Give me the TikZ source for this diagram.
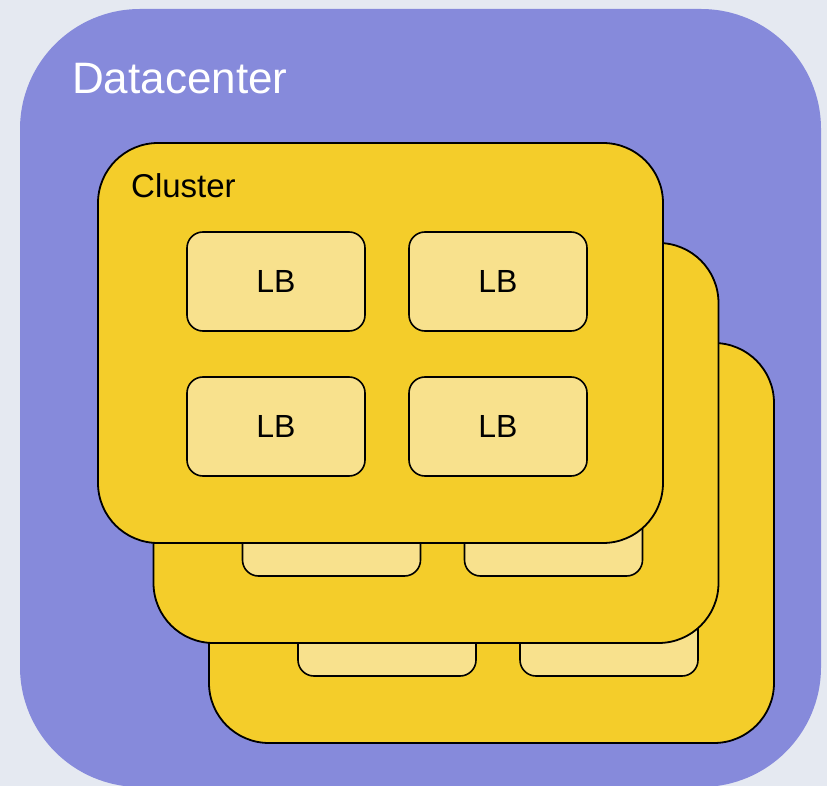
\documentclass[tikz,border=0pt]{standalone}
\usepackage{fontspec}
\setmainfont{Liberation Sans}
\definecolor{bgc}{RGB}{229,233,241}
\definecolor{dcc}{RGB}{134,138,219}
\definecolor{clc}{RGB}{244,205,42}
\definecolor{lbc}{RGB}{248,225,141}
\begin{document}
\begin{tikzpicture}[x=1pt,y=-1pt,
  dcbox/.style={fill=dcc,draw=none,rounded corners=120pt,minimum width=801pt,minimum height=778pt,inner sep=0pt},
  clbox/.style={fill=clc,draw=black,line width=1.8pt,rounded corners=60pt,minimum width=565pt,minimum height=400pt,inner sep=0pt},
  lbbox/.style={fill=lbc,draw=black,line width=1.6pt,rounded corners=16pt,minimum width=178pt,minimum height=99pt,inner sep=0pt,font=\fontsize{32}{37}\selectfont},
  dclabel/.style={text=white,font=\fontsize{44}{51}\selectfont,anchor=base west,inner sep=0pt},
  cllabel/.style={text=black,font=\fontsize{33}{39}\selectfont,anchor=base west,inner sep=0pt}]
\useasboundingbox (0,0) rectangle (827,786);
\fill[bgc] (0,0) rectangle (827,786);
\begin{scope}
\clip (0,0) rectangle (827,786);
\node[dcbox] (dc) at (420.5,398) {};
\end{scope}
\node[dclabel] (dclab) at (72,94) {Datacenter};
% back clusters
\foreach \k/\dx/\dy in {2/111/200,1/55.5/100}{
  \node[clbox] (cl\k) at (380.5+\dx,343+\dy) {};
  \node[lbbox] (lb\k a) at (276+\dx,281.5+\dy) {};
  \node[lbbox] (lb\k b) at (498+\dx,281.5+\dy) {};
  \node[lbbox] (lb\k c) at (276+\dx,426.5+\dy) {};
  \node[lbbox] (lb\k d) at (498+\dx,426.5+\dy) {};
}
% front cluster
\node[clbox] (cl0) at (380.5,343) {};
\node[cllabel] (cllab) at (131,198) {Cluster};
\node[lbbox] (lb0a) at (276,281.5) {LB};
\node[lbbox] (lb0b) at (498,281.5) {LB};
\node[lbbox] (lb0c) at (276,426.5) {LB};
\node[lbbox] (lb0d) at (498,426.5) {LB};
\end{tikzpicture}
\end{document}
